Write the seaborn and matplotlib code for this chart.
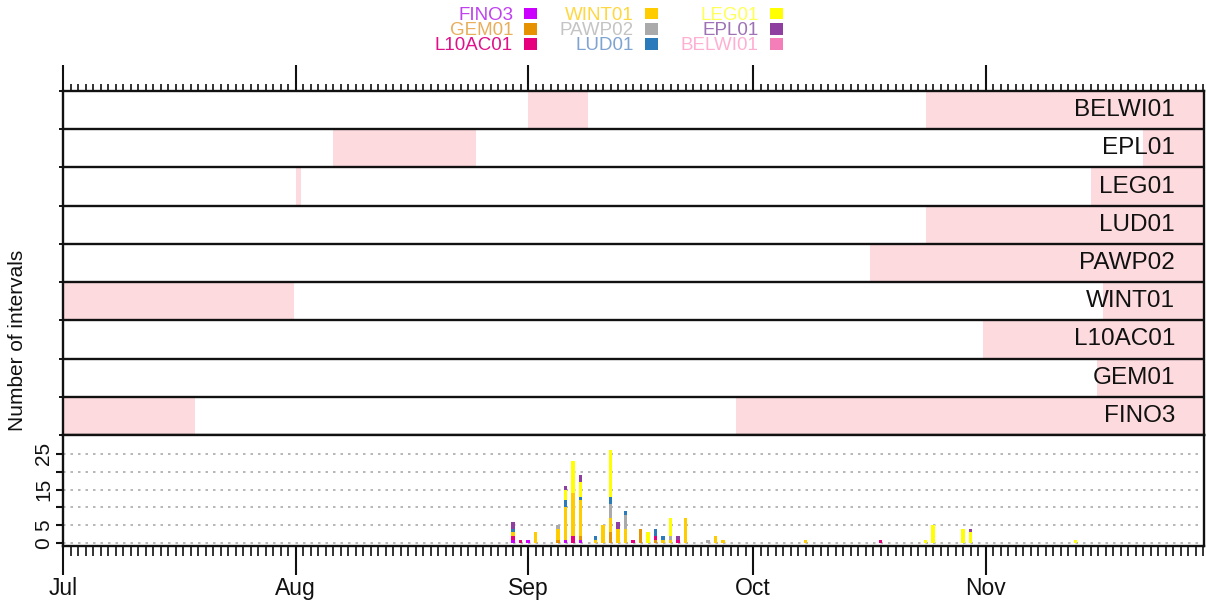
import matplotlib
matplotlib.use('Agg')
import matplotlib.pyplot as plt
import matplotlib.dates as mdates
from matplotlib.patches import Patch
import numpy as np
import pandas as pd
import seaborn as sns

# stations, bottom row first (also stacking order of the bars)
stations = ['FINO3', 'GEM01', 'L10AC01', 'WINT01', 'PAWP02', 'LUD01', 'LEG01', 'EPL01', 'BELWI01']
colors = ['#CC00FF', '#E69100', '#E6007E', '#FFCC00', '#AAAAAA', '#2B7BBA', '#FFFF00', '#8E3FA0', '#F47FB8']
text_colors = ['#C040F0', '#E8AE5C', '#E0108A', '#FFD740', '#C4C4C4', '#7FA4D2', '#FFFF5A', '#9E72B4', '#FFB0D2']

# periods shaded in each station row
gap_station = ['BELWI01', 'BELWI01', 'EPL01', 'EPL01', 'LEG01', 'LEG01', 'LUD01', 'PAWP02',
               'WINT01', 'WINT01', 'L10AC01', 'GEM01', 'FINO3', 'FINO3']
gap_start = ['2019-09-01', '2019-10-24', '2019-08-06', '2019-11-22', '2019-08-01 03:00', '2019-11-15',
             '2019-10-24', '2019-10-16 14:00', '2019-07-01', '2019-11-16 16:00', '2019-10-31 16:00',
             '2019-11-15 20:00', '2019-07-01', '2019-09-28 16:00']
gap_end = ['2019-09-09', '2019-12-01', '2019-08-25', '2019-12-01', '2019-08-01 18:00', '2019-12-01',
           '2019-12-01', '2019-12-01', '2019-07-31 18:00', '2019-12-01', '2019-12-01',
           '2019-12-01', '2019-07-18 14:00', '2019-12-01']

# daily number of intervals per station
bar_dates = ['2019-08-30', '2019-08-31', '2019-09-01', '2019-09-02', '2019-09-05', '2019-09-06',
             '2019-09-07', '2019-09-08', '2019-09-10', '2019-09-11', '2019-09-12', '2019-09-13',
             '2019-09-14', '2019-09-15', '2019-09-16', '2019-09-17', '2019-09-18', '2019-09-19',
             '2019-09-20', '2019-09-21', '2019-09-22', '2019-09-25', '2019-09-26', '2019-09-27',
             '2019-10-08', '2019-10-18', '2019-10-24', '2019-10-25', '2019-10-29', '2019-10-30',
             '2019-11-13']
fino3 = [1, 0, 1, 0, 0, 1, 0, 1, 0, 0, 0, 0, 0, 0, 0, 0, 0, 0, 0, 0, 0, 0, 0, 0, 0, 0, 0, 0, 0, 0, 0]
gem01 = [0, 0, 0, 0, 1, 0, 0, 1, 0, 0, 3, 0, 0, 0, 4, 0, 1, 0, 0, 0, 0, 0, 0, 0, 0, 0, 0, 0, 0, 0, 0]
l10ac01 = [1, 1, 0, 0, 0, 0, 2, 0, 0, 0, 0, 0, 0, 1, 0, 0, 1, 0, 0, 1, 0, 0, 0, 0, 0, 1, 0, 0, 0, 0, 0]
wint01 = [1, 0, 0, 3, 3, 9, 12, 10, 1, 5, 4, 4, 4, 0, 0, 0, 0, 1, 1, 0, 7, 0, 2, 1, 1, 0, 0, 0, 0, 0, 0]
pawp02 = [0, 0, 0, 0, 1, 0, 0, 0, 0, 0, 4, 0, 4, 0, 0, 0, 0, 0, 1, 0, 0, 1, 0, 0, 0, 0, 0, 0, 0, 0, 0]
lud01 = [1, 0, 0, 0, 0, 2, 0, 1, 1, 0, 2, 0, 1, 0, 0, 0, 2, 1, 0, 0, 0, 0, 0, 0, 0, 0, 0, 0, 0, 0, 0]
leg01 = [0, 0, 0, 0, 0, 3, 9, 4, 0, 0, 13, 0, 0, 0, 0, 3, 0, 0, 5, 0, 0, 0, 0, 0, 0, 0, 1, 5, 4, 3, 1]
epl01 = [2, 0, 0, 0, 0, 1, 0, 2, 0, 0, 0, 2, 0, 0, 0, 0, 0, 0, 0, 1, 0, 0, 0, 0, 0, 0, 0, 0, 0, 1, 0]
belwi01 = [0] * len(bar_dates)
counts = [fino3, gem01, l10ac01, wint01, pawp02, lud01, leg01, epl01, belwi01]

y_ticks = [0, 5, 10, 15, 20, 25]
y_tick_labels = ['0', '5', '', '15', '', '25']

sns.set_style('ticks')
plt.rcParams['font.family'] = ['Liberation Sans', 'DejaVu Sans']
ink = '#111111'

fig = plt.figure(figsize=(12.06, 6.06), dpi=100)
left, width = 63 / 1206, 1141 / 1206
ax_st = fig.add_axes([left, 1 - 435 / 606, width, 344 / 606])
ax_bar = fig.add_axes([left, 1 - 546 / 606, width, 111 / 606], sharex=ax_st)

x_start = mdates.date2num(pd.Timestamp('2019-07-01'))
x_end = mdates.date2num(pd.Timestamp('2019-11-30 03:00'))

# station rows
pink = '#FCDADD'
for st, s, e in zip(gap_station, gap_start, gap_end):
    s_num = mdates.date2num(pd.Timestamp(s))
    e_num = mdates.date2num(pd.Timestamp(e))
    ax_st.barh(stations.index(st) + 0.5, e_num - s_num, left=s_num, height=1.0,
               color=pink, linewidth=0, zorder=1)
ax_st.hlines(range(1, 9), x_start, x_end + 5, color=ink, linewidth=1.7, zorder=3)
for i, st in enumerate(stations):
    ax_st.text(0.9746, i + 0.5, st, transform=ax_st.get_yaxis_transform(), ha='right',
               va='center', fontsize=17.5, color=ink, zorder=4)
ax_st.set_ylim(0, 9)
ax_st.set_yticks(range(0, 10))
ax_st.set_yticklabels([])
ax_st.tick_params(axis='y', direction='out', length=3, width=1.4, color=ink)
ax_st.xaxis.tick_top()
ax_st.tick_params(axis='x', which='major', direction='out', length=19, width=1.5,
                  labeltop=False, color=ink)
ax_st.tick_params(axis='x', which='minor', direction='out', length=5, width=1.2,
                  labeltop=False, color=ink, top=True)

# bar panel
x = mdates.date2num(pd.to_datetime(bar_dates))
bottom = np.zeros(len(x))
for st, vals, col in zip(stations, counts, colors):
    vals = np.array(vals)
    ax_bar.bar(x, vals, width=0.5, bottom=bottom, color=col, linewidth=0, zorder=3)
    bottom += vals
ax_bar.set_ylim(-0.8, 30.3)
ax_bar.set_yticks(y_ticks)
ax_bar.set_yticklabels(y_tick_labels, rotation=90, va='center', fontsize=15, color=ink)
for yv in y_ticks:
    ax_bar.axhline(yv, color='#AAAAAA', linestyle=(0, (1.5, 3)), linewidth=1.2, zorder=1)
ax_bar.tick_params(axis='y', direction='out', length=5, width=1.5, color=ink, pad=2)
ax_bar.tick_params(axis='x', which='major', direction='out', length=21, width=1.5,
                   color=ink, labelsize=16.5, labelcolor=ink, pad=1)
ax_bar.tick_params(axis='x', which='minor', direction='out', length=7.5, width=1.2,
                   color=ink, bottom=True)

ax_bar.xaxis.set_major_locator(mdates.MonthLocator())
ax_bar.xaxis.set_minor_locator(mdates.DayLocator())
ax_bar.xaxis.set_major_formatter(mdates.DateFormatter('%b'))
ax_bar.set_xlim(x_start, x_end)

for ax in (ax_st, ax_bar):
    for sp in ax.spines.values():
        sp.set_linewidth(1.7)
        sp.set_color(ink)

fig.text(18 / 1206, 1 - 340 / 606, 'Number of intervals', rotation=90, ha='center',
         va='center', fontsize=15, color=ink)

handles = [Patch(facecolor=c, edgecolor='none') for c in colors]
fig.legend(handles, stations, ncol=3, loc='upper center', bbox_to_anchor=(0.505, 1.01),
           frameon=False, markerfirst=False, labelcolor=text_colors, fontsize=13.5,
           handlelength=0.7, handleheight=0.6, handletextpad=0.6, columnspacing=1.2,
           labelspacing=-0.1, borderpad=0.2)

fig.savefig('out.png', dpi=100)
